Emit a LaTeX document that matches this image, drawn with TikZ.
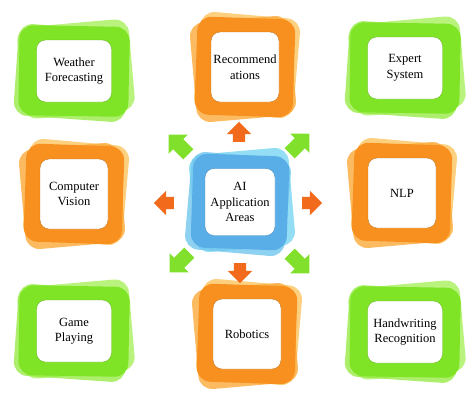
\documentclass[tikz,border=0pt]{standalone}
\usepackage{fontspec}
\setmainfont{Liberation Serif}
\usetikzlibrary{shapes.arrows}
\definecolor{gA}{HTML}{80E426}
\definecolor{gB}{HTML}{A8F05E}
\definecolor{oA}{HTML}{F7901E}
\definecolor{oB}{HTML}{FBAA3A}
\definecolor{oC}{HTML}{FDC86A}
\definecolor{bA}{HTML}{5AAEE8}
\definecolor{bB}{HTML}{80D8F2}
\definecolor{arrO}{HTML}{F26A1B}
\definecolor{arrG}{HTML}{80E02C}
\newcommand\lbl{\fontsize{12.5}{15.5}\selectfont}
\tikzset{
 base/.style={rectangle, rounded corners=14pt, inner sep=0pt},
 gsz/.style={base, minimum width=112pt, minimum height=92pt},
 osz/.style={base, minimum width=100pt, minimum height=100pt},
 bsz/.style={base, minimum width=100pt, minimum height=98pt},
 gl1/.style={gsz, fill=gB, opacity=.8, rotate=5},
 gl2/.style={gsz, fill=gB!60!gA, opacity=.8, rotate=-4},
 gmain/.style={gsz, fill=gA, minimum width=110pt, minimum height=90pt, rotate=-1},
 gin/.style={base, rounded corners=9pt, fill=white, draw=gA!80!black, line width=.4pt, minimum width=75pt, minimum height=62pt, align=center, font=\lbl},
 ol1/.style={osz, fill=oC, opacity=.85, rotate=-5},
 ol2/.style={osz, fill=oB, opacity=.8, rotate=5},
 omain/.style={osz, fill=oA, minimum width=98pt, minimum height=98pt, rotate=-2},
 oin/.style={base, rounded corners=9pt, fill=white, draw=oA!80!black, line width=.4pt, minimum width=68pt, minimum height=70pt, align=center, font=\lbl},
 bl1/.style={bsz, fill=bB, opacity=.85, rotate=5},
 bl2/.style={bsz, fill=bB!60!bA, opacity=.8, rotate=-5},
 bmain/.style={bsz, fill=bA, minimum width=96pt, minimum height=94pt, rotate=-2},
 bin/.style={base, rounded corners=9pt, fill=white, draw=bA!80!black, line width=.4pt, minimum width=70pt, minimum height=67pt, align=center, font=\lbl},
 oarr/.style={single arrow, fill=arrO, inner sep=0pt, inner ysep=6pt, single arrow head extend=6pt, minimum height=20pt},
 garr/.style={single arrow, fill=arrG, inner sep=0pt, inner ysep=7pt, single arrow head extend=6.5pt, minimum height=28pt},
}
\newcommand\aitile[5]{%
 \node[#1l1] (#2-a) at (#3+2,#4-2) {};
 \node[#1l2] (#2-b) at (#3-2,#4+2) {};
 \node[#1main] (#2-c) at (#3,#4) {};
 \node[#1in] (#2) at (#3,#4) {#5};
}
\begin{document}
\begin{tikzpicture}[x=1pt,y=-1pt]
\useasboundingbox (0,0) rectangle (474,400);
\aitile{g}{weather}{74}{71}{Weather\\Forecasting}
\aitile{o}{recom}{245}{67}{Recommend\\ations}
\aitile{g}{expert}{405}{68}{Expert\\System}
\aitile{o}{cv}{74}{194}{Computer\\Vision}
\aitile{b}{ai}{240}{202}{AI\\Application\\Areas}
\aitile{o}{nlp}{402}{193}{NLP}
\aitile{g}{game}{74}{331}{Game\\Playing}
\aitile{o}{robot}{247}{334}{Robotics}
\aitile{g}{hand}{405}{332}{Handwriting\\Recognition}
\node[oarr, rotate=90] (up) at (239,135) {};
\node[oarr, rotate=-90] (down) at (240,270) {};
\node[oarr, rotate=180] (left) at (167,203) {};
\node[oarr] (right) at (309,203) {};
\node[garr, rotate=135] (tl) at (181,147) {};
\node[garr, rotate=45] (tr) at (297,146) {};
\node[garr, rotate=-135] (bl) at (182,260) {};
\node[garr, rotate=-45] (br) at (297,261) {};
\end{tikzpicture}
\end{document}
